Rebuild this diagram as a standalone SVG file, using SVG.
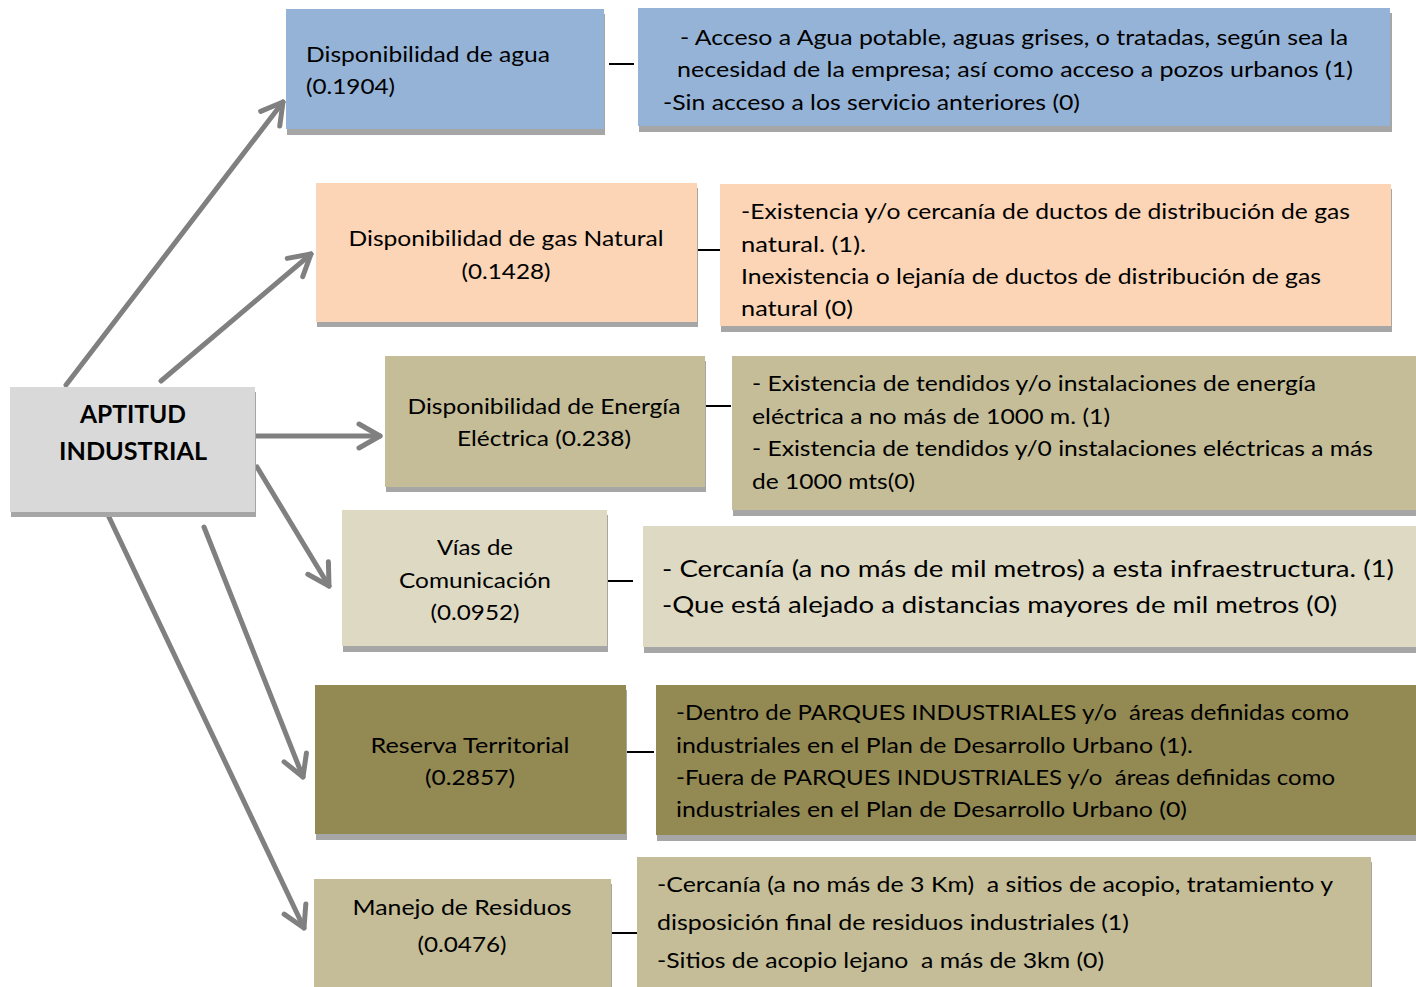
<svg xmlns="http://www.w3.org/2000/svg" width="1416" height="987" viewBox="0 0 1416 987">
<style>
.t{font-family:Lato,"Open Sans","Liberation Sans",sans-serif;font-size:22px;fill:#000}
.c{text-anchor:middle}
.b{font-weight:bold;font-size:24px}
.sh{fill:#a6a6a6}
.arr{stroke:#808080;stroke-width:5;fill:none;stroke-linecap:round}
.dash{stroke:#000;stroke-width:2}
</style>
<defs>
<marker id="ah" markerUnits="userSpaceOnUse" viewBox="-30 -18 36 36" markerWidth="36" markerHeight="36" refX="0" refY="0" orient="auto">
<path d="M-21,-12 L0,0 L-21,12" fill="none" stroke="#808080" stroke-width="5" stroke-linecap="round" stroke-linejoin="round"/>
</marker>
</defs>
<rect width="1416" height="987" fill="#fff"/>

<g id="connectors">
<line class="arr" x1="66" y1="385" x2="283" y2="102" marker-end="url(#ah)"/>
<line class="arr" x1="161" y1="381" x2="311" y2="254" marker-end="url(#ah)"/>
<line class="arr" x1="256" y1="436" x2="380" y2="436" marker-end="url(#ah)"/>
<line class="arr" x1="257" y1="467" x2="329" y2="586" marker-end="url(#ah)"/>
<line class="arr" x1="204" y1="527" x2="303" y2="777" marker-end="url(#ah)"/>
<line class="arr" x1="108" y1="515" x2="304" y2="928" marker-end="url(#ah)"/>
<line class="dash" x1="609" y1="64" x2="634" y2="64"/>
<line class="dash" x1="698" y1="250" x2="722" y2="250"/>
<line class="dash" x1="705" y1="406" x2="731" y2="406"/>
<line class="dash" x1="608" y1="581" x2="633" y2="581"/>
<line class="dash" x1="627" y1="752" x2="654" y2="752"/>
<line class="dash" x1="612" y1="933" x2="637" y2="933"/>
</g>

<g id="aptitud">
<rect class="sh" x="11" y="392" width="245" height="125"/>
<rect x="10" y="387" width="245" height="125" fill="#d9d9d9"/>
<text class="t c b" x="133" y="423" textLength="106" lengthAdjust="spacingAndGlyphs">APTITUD</text>
<text class="t c b" x="133" y="460" textLength="148" lengthAdjust="spacingAndGlyphs">INDUSTRIAL</text>
</g>

<g id="agua">
<rect class="sh" x="287" y="14" width="318" height="121"/>
<rect x="286" y="9" width="318" height="120" fill="#95b3d7"/>
<text class="t" x="306" y="62" textLength="244" lengthAdjust="spacingAndGlyphs">Disponibilidad de agua</text>
<text class="t" x="306" y="94" textLength="89" lengthAdjust="spacingAndGlyphs">(0.1904)</text>
</g>
<g id="agua-criterio">
<rect class="sh" x="639" y="13" width="753" height="119"/>
<rect x="638" y="8" width="752" height="118" fill="#95b3d7"/>
<text class="t" x="680" y="45" textLength="668" lengthAdjust="spacingAndGlyphs">- Acceso a Agua potable, aguas grises, o tratadas, según sea la</text>
<text class="t" x="677" y="77" textLength="676" lengthAdjust="spacingAndGlyphs">necesidad de la empresa; así como acceso a pozos urbanos (1)</text>
<text class="t" x="663" y="110" textLength="417" lengthAdjust="spacingAndGlyphs">-Sin acceso a los servicio anteriores (0)</text>
</g>

<g id="gas">
<rect class="sh" x="317" y="188" width="381" height="139"/>
<rect x="316" y="183" width="381" height="139" fill="#fbd5b5"/>
<text class="t c" x="506" y="246" textLength="315" lengthAdjust="spacingAndGlyphs">Disponibilidad de gas Natural</text>
<text class="t c" x="506" y="279" textLength="89" lengthAdjust="spacingAndGlyphs">(0.1428)</text>
</g>
<g id="gas-criterio">
<rect class="sh" x="721" y="189" width="671" height="143"/>
<rect x="720" y="184" width="671" height="142" fill="#fbd5b5"/>
<text class="t" x="741" y="219" textLength="609" lengthAdjust="spacingAndGlyphs">-Existencia y/o cercanía de ductos de distribución de gas</text>
<text class="t" x="741" y="252" textLength="125" lengthAdjust="spacingAndGlyphs">natural. (1).</text>
<text class="t" x="741" y="284" textLength="580" lengthAdjust="spacingAndGlyphs">Inexistencia o lejanía de ductos de distribución de gas</text>
<text class="t" x="741" y="316" textLength="112" lengthAdjust="spacingAndGlyphs">natural (0)</text>
</g>

<g id="energia">
<rect class="sh" x="386" y="361" width="320" height="131"/>
<rect x="385" y="356" width="320" height="131" fill="#c4bd97"/>
<text class="t c" x="544" y="414" textLength="273" lengthAdjust="spacingAndGlyphs">Disponibilidad de Energía</text>
<text class="t c" x="544" y="446" textLength="174" lengthAdjust="spacingAndGlyphs">Eléctrica (0.238)</text>
</g>
<g id="energia-criterio">
<rect class="sh" x="733" y="361" width="684" height="155"/>
<rect x="732" y="356" width="684" height="154" fill="#c4bd97"/>
<text class="t" x="752" y="391" textLength="564" lengthAdjust="spacingAndGlyphs">- Existencia de tendidos y/o instalaciones de energía</text>
<text class="t" x="752" y="424" textLength="358" lengthAdjust="spacingAndGlyphs">eléctrica a no más de 1000 m. (1)</text>
<text class="t" x="752" y="456" textLength="621" lengthAdjust="spacingAndGlyphs">- Existencia de tendidos y/0 instalaciones eléctricas a más</text>
<text class="t" x="752" y="489" textLength="163" lengthAdjust="spacingAndGlyphs">de 1000 mts(0)</text>
</g>

<g id="vias">
<rect class="sh" x="343" y="515" width="265" height="137"/>
<rect x="342" y="510" width="265" height="136" fill="#ddd9c3"/>
<text class="t c" x="475" y="555" textLength="76" lengthAdjust="spacingAndGlyphs">Vías de</text>
<text class="t c" x="475" y="588" textLength="152" lengthAdjust="spacingAndGlyphs">Comunicación</text>
<text class="t c" x="475" y="620" textLength="89" lengthAdjust="spacingAndGlyphs">(0.0952)</text>
</g>
<g id="vias-criterio">
<rect class="sh" x="644" y="531" width="773" height="122"/>
<rect x="643" y="526" width="773" height="121" fill="#ddd9c3"/>
<text class="t" x="662" y="577" style="font-size:24px" textLength="732" lengthAdjust="spacingAndGlyphs">- Cercanía (a no más de mil metros) a esta infraestructura. (1)</text>
<text class="t" x="662" y="613" style="font-size:24px" textLength="675" lengthAdjust="spacingAndGlyphs">-Que está alejado a distancias mayores de mil metros (0)</text>
</g>

<g id="reserva">
<rect class="sh" x="316" y="690" width="311" height="150"/>
<rect x="315" y="685" width="311" height="149" fill="#938953"/>
<text class="t c" x="470" y="753" textLength="199" lengthAdjust="spacingAndGlyphs">Reserva Territorial</text>
<text class="t c" x="470" y="785" textLength="90" lengthAdjust="spacingAndGlyphs">(0.2857)</text>
</g>
<g id="reserva-criterio">
<rect class="sh" x="657" y="690" width="760" height="151"/>
<rect x="656" y="685" width="760" height="150" fill="#938953"/>
<text class="t" x="676" y="720" xml:space="preserve" textLength="673" lengthAdjust="spacingAndGlyphs">-Dentro de PARQUES INDUSTRIALES y/o  áreas definidas como</text>
<text class="t" x="676" y="753" textLength="517" lengthAdjust="spacingAndGlyphs">industriales en el Plan de Desarrollo Urbano (1).</text>
<text class="t" x="676" y="785" xml:space="preserve" textLength="659" lengthAdjust="spacingAndGlyphs">-Fuera de PARQUES INDUSTRIALES y/o  áreas definidas como</text>
<text class="t" x="676" y="817" textLength="511" lengthAdjust="spacingAndGlyphs">industriales en el Plan de Desarrollo Urbano (0)</text>
</g>

<g id="residuos">
<rect class="sh" x="315" y="884" width="297" height="108"/>
<rect x="314" y="879" width="297" height="108" fill="#c4bd97"/>
<text class="t c" x="462" y="915" textLength="219" lengthAdjust="spacingAndGlyphs">Manejo de Residuos</text>
<text class="t c" x="462" y="952" textLength="89" lengthAdjust="spacingAndGlyphs">(0.0476)</text>
</g>
<g id="residuos-criterio">
<rect class="sh" x="638" y="862" width="734" height="130"/>
<rect x="637" y="857" width="734" height="130" fill="#c4bd97"/>
<text class="t" x="657" y="892" xml:space="preserve" textLength="676" lengthAdjust="spacingAndGlyphs">-Cercanía (a no más de 3 Km)  a sitios de acopio, tratamiento y</text>
<text class="t" x="657" y="930" textLength="472" lengthAdjust="spacingAndGlyphs">disposición final de residuos industriales (1)</text>
<text class="t" x="657" y="968" xml:space="preserve" textLength="447" lengthAdjust="spacingAndGlyphs">-Sitios de acopio lejano  a más de 3km (0)</text>
</g>
</svg>
